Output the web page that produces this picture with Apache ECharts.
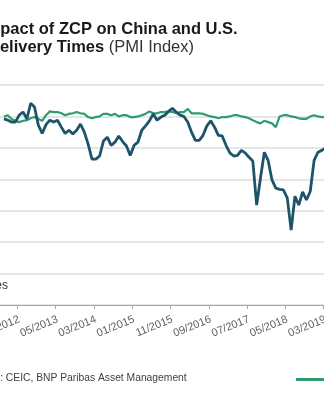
<!DOCTYPE html>
<html>
<head>
<meta charset="utf-8">
<script src="https://cdn.jsdelivr.net/npm/echarts@6/dist/echarts.min.js"></script>
<style>
html,body{margin:0;padding:0;overflow:hidden;background:#ffffff;width:324px;height:400px;}
#c{position:absolute;left:-60px;top:0;width:460px;height:400px;}
</style>
</head>
<body>
<div id="c"></div>
<script>
// Monthly categories (MM/YYYY)
const categories = [
  '09/2011','10/2011','11/2011','12/2011',
  '01/2012','02/2012','03/2012','04/2012','05/2012','06/2012','07/2012','08/2012','09/2012','10/2012','11/2012','12/2012',
  '01/2013','02/2013','03/2013','04/2013','05/2013','06/2013','07/2013','08/2013','09/2013','10/2013','11/2013','12/2013',
  '01/2014','02/2014','03/2014','04/2014','05/2014','06/2014','07/2014','08/2014','09/2014','10/2014','11/2014','12/2014',
  '01/2015','02/2015','03/2015','04/2015','05/2015','06/2015','07/2015','08/2015','09/2015','10/2015','11/2015','12/2015',
  '01/2016','02/2016','03/2016','04/2016','05/2016','06/2016','07/2016','08/2016','09/2016','10/2016','11/2016','12/2016',
  '01/2017','02/2017','03/2017','04/2017','05/2017','06/2017','07/2017','08/2017','09/2017','10/2017','11/2017','12/2017',
  '01/2018','02/2018','03/2018','04/2018','05/2018','06/2018','07/2018','08/2018','09/2018','10/2018','11/2018','12/2018',
  '01/2019','02/2019','03/2019','04/2019','05/2019','06/2019'
];

// China PMI: suppliers' delivery times (green)
const chinaDelivery = [
  null,null,null,null,
  null,null,50.0,50.2,49.6,49.3,49.1,49.3,49.4,49.7,49.9,49.6,
  49.3,50.2,50.8,50.7,50.7,50.5,50.2,50.4,50.5,50.7,50.5,50.4,
  49.9,49.7,49.9,50.0,50.4,50.4,50.2,50.4,50.0,50.2,50.2,49.9,
  49.9,50.0,50.2,50.4,50.8,50.5,50.5,50.7,50.7,50.8,50.7,50.5,
  50.7,50.7,51.2,50.5,50.5,50.5,50.4,50.2,50.0,49.9,49.7,49.9,
  49.9,50.0,50.2,50.2,50.0,49.9,49.7,49.4,49.1,48.9,49.3,49.1,
  48.9,48.3,50.0,50.2,50.2,50.0,49.9,49.7,49.6,49.6,50.0,50.2,
  50.0,49.9,49.9,49.9
];

// U.S. PMI: supplier deliveries (inverted, dark)
const usDelivery = [
  null,null,null,null,
  null,null,49.6,49.4,49.1,49.1,50.2,50.7,49.6,52.1,51.5,48.6,
  47.3,48.7,49.4,49.1,49.4,48.3,47.3,47.8,47.2,47.8,48.8,47.5,
  45.6,43.2,43.2,43.7,46.1,46.7,45.4,45.9,46.9,46.0,45.3,43.8,
  45.4,45.9,47.8,48.5,49.3,50.4,49.4,49.9,50.2,50.8,51.3,50.7,
  50.2,50.0,49.1,47.5,46.2,46.2,47.0,48.5,49.3,48.3,47.0,46.9,
  45.4,44.2,43.7,43.8,44.6,44.2,43.5,42.9,35.9,40.2,44.3,43.0,
  39.9,38.6,38.4,38.3,37.0,31.9,37.3,35.9,38.0,36.7,38.1,43.0,
  44.3,44.6,45.0,45.3
];

const yMin = 20, yMax = 55, yStep = 5;
const labelEvery = 10; // months between ticks/labels

const GREEN = '#2f9c70';
const DARK = '#1e5469';
const FONT = 'Liberation Sans, Arial, sans-serif';

const chart = echarts.init(document.getElementById('c'), null, {renderer: 'canvas'});
chart.setOption({
  animation: false,
  backgroundColor: '#ffffff',
  grid: {left: 30, right: 61, top: 85, bottom: 95, containLabel: false},
  graphic: [
    {type: 'text', left: 41, top: 21,
     style: {text: 'Impact of ZCP on China and U.S.', fontFamily: FONT,
             fontSize: 16.5, fontWeight: 'bold', fill: '#1a1a1a'}},
    {type: 'text', left: 48, top: 39,
     style: {text: '{b|Delivery Times} {r|(PMI Index)}', fontFamily: FONT,
             fontSize: 16.5, fill: '#1a1a1a',
             rich: {b: {fontWeight: 'bold', fontSize: 16.5, fill: '#1a1a1a', fontFamily: FONT},
                    r: {fontWeight: 'normal', fontSize: 16.5, fill: '#333333', fontFamily: FONT}}}},
    {type: 'text', right: 460 - 68, top: 280,
     style: {text: 'Delivery Times', fontFamily: FONT, fontSize: 12, fill: '#333333'}},
    {type: 'text', left: 27.5, top: 373,
     style: {text: 'Source: CEIC, BNP Paribas Asset Management', fontFamily: FONT,
             fontSize: 10.3, fill: '#404040'}}
  ],
  legend: {
    left: 356, top: 374, padding: 0, itemGap: 20,
    icon: 'rect', itemWidth: 40, itemHeight: 3,
    textStyle: {fontFamily: FONT, fontSize: 11, color: '#333'},
    data: ['China', 'U.S. (inverted)']
  },
  xAxis: {
    type: 'category',
    data: categories,
    boundaryGap: true,
    axisLine: {show: true, lineStyle: {color: '#a6a6a6', width: 1}},
    axisTick: {show: true, interval: labelEvery - 1, length: 4, lineStyle: {color: '#a6a6a6'}},
    axisLabel: {interval: labelEvery - 1, rotate: 22, margin: 14, fontSize: 11,
                fontFamily: FONT, color: '#606060'},
    splitLine: {show: false}
  },
  yAxis: {
    type: 'value', min: yMin, max: yMax, interval: yStep,
    axisLine: {show: false}, axisTick: {show: false},
    axisLabel: {fontSize: 11, color: '#595959'},
    splitLine: {show: true, lineStyle: {color: '#e6e6e6', width: 2}}
  },
  series: [
    {name: 'China', type: 'line', data: chinaDelivery, showSymbol: false, symbol: 'none',
     lineStyle: {color: GREEN, width: 2.2}, itemStyle: {color: GREEN}, z: 2},
    {name: 'U.S. (inverted)', type: 'line', data: usDelivery, showSymbol: false, symbol: 'none',
     lineStyle: {color: DARK, width: 2.8}, itemStyle: {color: DARK}, z: 3}
  ]
});
</script>
</body>
</html>
